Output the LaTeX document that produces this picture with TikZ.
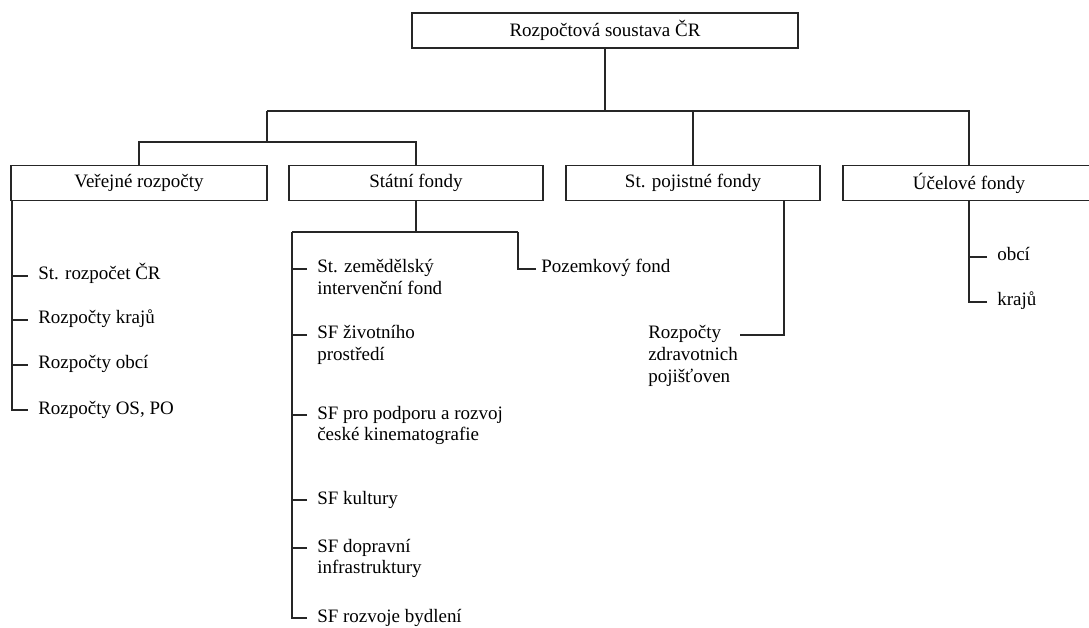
\documentclass[tikz,border=0pt]{standalone}
\usepackage{fontspec}
\setmainfont{Liberation Serif}
\usepackage{tikz}
\newcommand{\itemlines}[1]{\begin{tabular}[t]{@{}l@{}}#1\end{tabular}}

\begin{document}
\begin{tikzpicture}[x=0.025cm, y=-0.025cm,
    txt/.style={font=\fontsize{13.5}{15.6}\selectfont},
    fundbox/.style={txt, draw=black!85, line width=1.3pt, minimum height=0.875cm, inner sep=0pt},
    item/.style={txt, anchor=base west, inner sep=0pt},
    link/.style={draw=black!85, line width=1.2pt}]
    \useasboundingbox (0,0) rectangle (1089,628);

    % boxes
    \node[fundbox, minimum width=9.65cm] (root) at (605,30.5) {Rozpočtová soustava ČR};
    \node[fundbox, minimum width=6.4cm]  (vr)  at (139,183) {Veřejné rozpočty};
    \node[fundbox, minimum width=6.35cm] (sf)  at (416,183) {Státní fondy};
    \node[fundbox, minimum width=6.35cm] (spf) at (693,183) {St. pojistné fondy};
    \node[fundbox, minimum width=6.3cm]  (uf)  at (969,183) {Účelové fondy};

    % top level
    \coordinate (bus) at (267,111);
    \coordinate (sub) at (267,142);
    \draw[link] (root.south) -- (root.south |- bus);
    \draw[link] (bus) -| (uf.north);
    \draw[link] (spf.north) -- (spf.north |- bus);
    \draw[link] (bus) -- (sub);
    \draw[link] (vr.north) |- (sub) -| (sf.north);

    % Verejne rozpocty
    \node[item] (vr1) at (38,280) {St. rozpočet ČR};
    \node[item] (vr2) at (38,324) {Rozpočty krajů};
    \node[item] (vr3) at (38,369) {Rozpočty obcí};
    \node[item] (vr4) at (38,414) {Rozpočty OS, PO};
    \coordinate (vrt) at ([xshift=0.05cm]vr.south west);
    \foreach \n in {1,...,4}
      \draw[link] ([shift={(-0.25cm,3pt)}]vr\n.base west) -| (vrt);

    % Statni fondy
    \coordinate (sfl) at (292,232);
    \coordinate (sfr) at (518,232);
    \draw[link] (sf.south) -- (sf.south |- sfl);
    \draw[link] (sfl) -- (sfr);
    \node[item] (pf)  at (541,273) {Pozemkový fond};
    \node[item] (sf1) at (317,273) {\itemlines{St. zemědělský\\intervenční fond}};
    \node[item] (sf2) at (317,339) {\itemlines{SF životního\\prostředí}};
    \node[item] (sf3) at (317,419) {\itemlines{SF pro podporu a rozvoj\\české kinematografie}};
    \node[item] (sf4) at (317,504) {SF kultury};
    \node[item] (sf5) at (317,552) {\itemlines{SF dopravní\\infrastruktury}};
    \node[item] (sf6) at (317,622) {SF rozvoje bydlení};
    \foreach \n in {1,...,6}
      \draw[link] ([shift={(-0.25cm,3pt)}]sf\n.base west) -| (sfl);
    \draw[link] ([shift={(-0.12cm,3pt)}]pf.base west) -| (sfr);

    % St. pojistne fondy
    \coordinate (spft) at ([xshift=-0.925cm]spf.south east);
    \node[item] (rzp) at (648,339) {\itemlines{Rozpočty\\zdravotnich\\pojišťoven}};
    \draw[link] ([shift={(0.05cm,3pt)}]rzp.base east) -| (spft);

    % Ucelove fondy
    \node[item] (uf1) at (997,261) {obcí};
    \node[item] (uf2) at (997,306) {krajů};
    \foreach \n in {1,2}
      \draw[link] ([shift={(-0.25cm,3pt)}]uf\n.base west) -| (uf.south);
\end{tikzpicture}
\end{document}
